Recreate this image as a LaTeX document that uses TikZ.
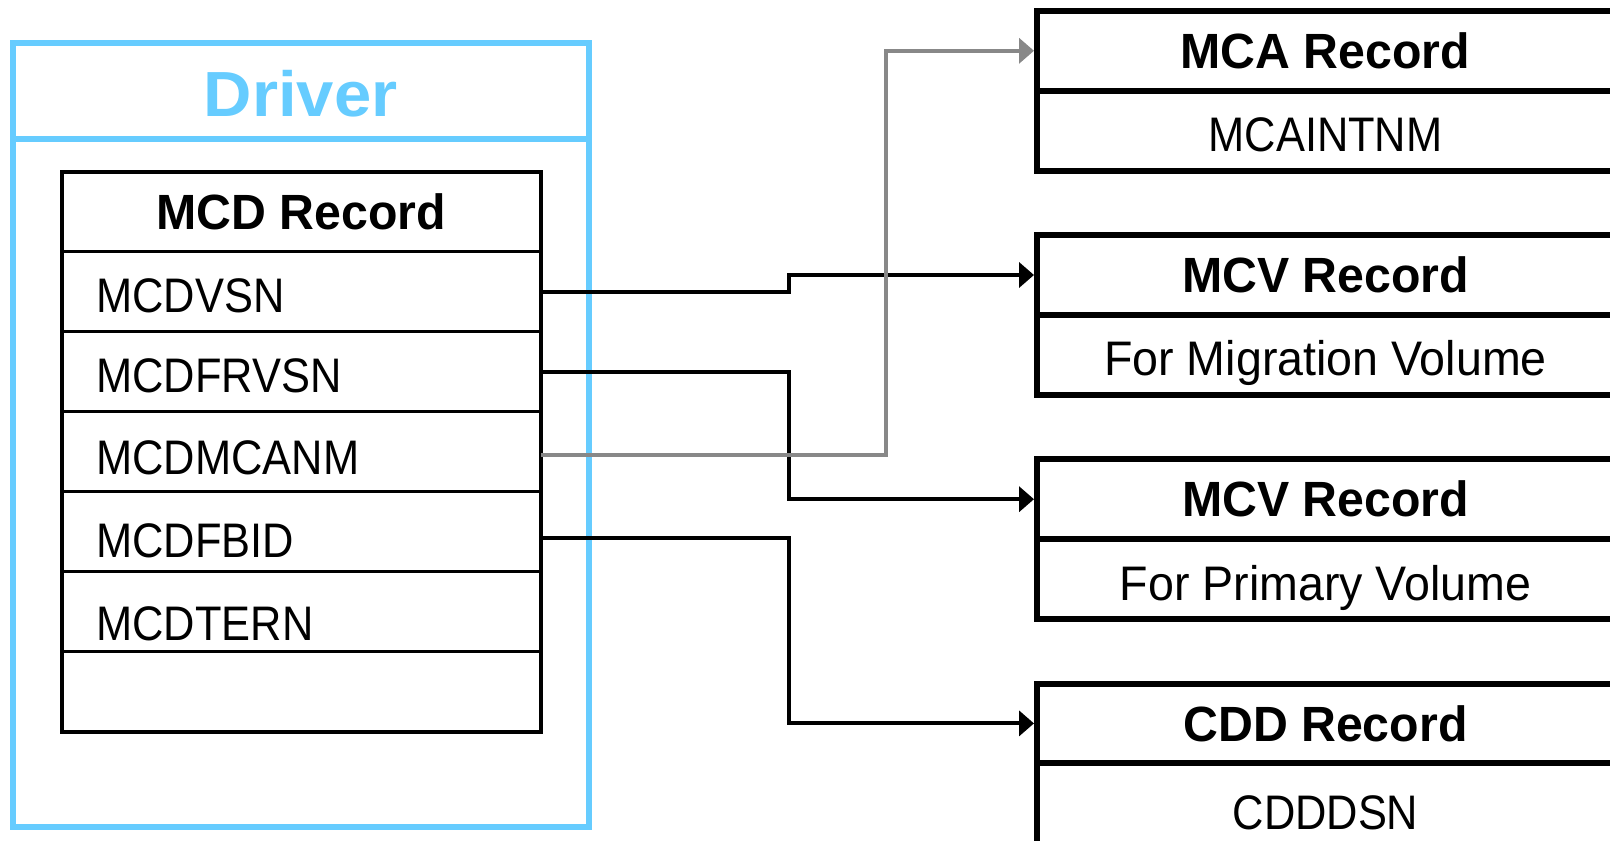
\documentclass[tikz,border=0pt]{standalone}
\usepackage{fontspec}
\setmainfont{Liberation Sans}
\newfontfamily\capsfont[FakeStretch=0.895]{Liberation Sans}
\newfontfamily\lowfont[FakeStretch=0.96]{Liberation Sans}
\newfontfamily\titlefont[FakeStretch=0.975]{Liberation Sans}
\newfontfamily\drvfont[FakeStretch=1.05]{Liberation Sans}
\usetikzlibrary{arrows.meta,calc}
\definecolor{drvblue}{HTML}{66CCFF}
\definecolor{conngray}{HTML}{888888}
\begin{document}
\begin{tikzpicture}[x=1pt,y=-1pt,
  every node/.style={outer sep=0pt},
  drvbox/.style={draw=drvblue, line width=6pt, minimum width=576.5pt, minimum height=784pt, inner sep=0pt},
  drvline/.style={draw=drvblue, line width=6pt},
  titletext/.style={font=\titlefont\bfseries\fontsize{49.5}{50}\selectfont, text height=35.4pt, text depth=0pt},
  mcdrow/.style={draw, line width=2.5pt, minimum width=479.4pt, minimum height=80pt, inner sep=0pt, anchor=north west},
  mcdframe/.style={draw, line width=4pt},
  field/.style={anchor=base west, inner sep=0pt, font=\capsfont\fontsize{48.5}{50}\selectfont},
  rectitle/.style={draw, line width=6pt, minimum width=577pt, minimum height=79.6pt, inner sep=0pt, anchor=north west, titletext},
  recbody/.style={draw, line width=6pt, minimum width=577pt, minimum height=80pt, inner sep=0pt, anchor=north west, text height=42pt, text depth=0pt},
  capsbody/.style={recbody, font=\capsfont\fontsize{48.5}{50}\selectfont},
  lowbody/.style={recbody, font=\lowfont\fontsize{48.5}{50}\selectfont},
  conn/.style={line width=4pt, shorten >=3pt, -{Triangle[length=15pt,width=25pt]}},
  gconn/.style={conn, draw=conngray}
]
\useasboundingbox (0,0) rectangle (1610,841);
\clip (0,0) rectangle (1610,841);

% Driver container
\node[drvbox] (drv) at (300.75,435.15) {};
\draw[drvline] (drv.west |- 0,139) -- (drv.east |- 0,139);
\node[anchor=base, inner sep=0pt, text=drvblue, font=\drvfont\bfseries\fontsize{63.8}{64}\selectfont] (drvlabel) at (300.75,116.7) {Driver};

% MCD record
\node[mcdrow, titletext] (mcdh) at (61.6,171.5) {MCD Record};
\node[mcdrow] (r1) at (mcdh.south west) {};
\node[mcdrow] (r2) at (r1.south west) {};
\node[mcdrow] (r3) at (r2.south west) {};
\node[mcdrow] (r4) at (r3.south west) {};
\node[mcdrow] (r5) at (r4.south west) {};
\node[mcdrow] (r6) at (r5.south west) {};
\draw[mcdframe] (mcdh.north west) rectangle (r6.south east);
\node[field] (f1) at (96.5,312) {MCDVSN};
\node[field] (f2) at (96.5,392) {MCDFRVSN};
\node[field] (f3) at (96.5,474.5) {MCDMCANM};
\node[field] (f4) at (96.5,557.5) {MCDFBID};
\node[field] (f5) at (96.5,640.7) {MCDTERN};

% Right-hand records
\node[rectitle] (mcah) at (1037,11) {MCA Record};
\node[capsbody] (mcab) at (mcah.south west) {MCAINTNM};
\node[rectitle] (mcvah) at (1037,235.2) {MCV Record};
\node[lowbody] (mcvab) at (mcvah.south west) {For Migration Volume};
\node[rectitle] (mcvbh) at (1037,459.4) {MCV Record};
\node[lowbody] (mcvbb) at (mcvbh.south west) {For Primary Volume};
\node[rectitle] (cddh) at (1037,683.6) {CDD Record};
\node[capsbody, minimum height=90pt] (cddb) at (cddh.south west) {CDDDSN};

% Connectors
\coordinate (bus) at (788.6,0);
\coordinate (gbus) at (885.7,0);
\coordinate (s1) at ($(r1.east)+(0,0.5)$);
\coordinate (s2) at (r2.east);
\coordinate (s3) at ($(r3.east)+(0,3.5)$);
\coordinate (s4) at ($(r4.east)+(0,6)$);
\draw[conn] (s1) -- (s1 -| bus) |- (mcvah.west);
\draw[conn] (s2) -- (s2 -| bus) |- (mcvbh.west);
\draw[conn] (s4) -- (s4 -| bus) |- (cddh.west);
\draw[gconn] (s3) -- (s3 -| gbus) |- (mcah.west);
\end{tikzpicture}
\end{document}
